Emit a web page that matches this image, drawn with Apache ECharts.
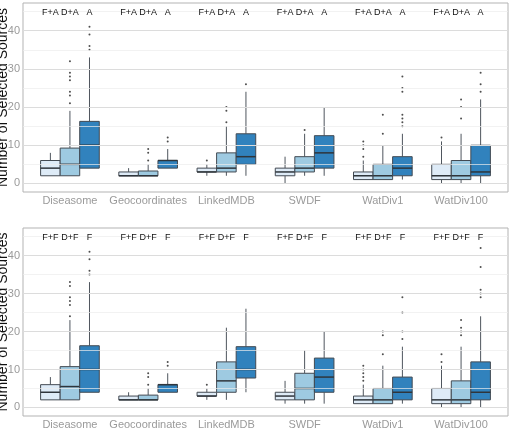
<!DOCTYPE html>
<html>
<head>
<meta charset="utf-8">
<script src="https://cdn.jsdelivr.net/npm/echarts@6/dist/echarts.min.js"></script>
<style>
	html,body{margin:0;padding:0;background:#fff;}
	#chart{width:512px;height:432px;}
</style>
</head>
<body>
<div id="chart"></div>
<script>
// categories and labels
const groups = ['Diseasome', 'Geocoordinates', 'LinkedMDB', 'SWDF', 'WatDiv1', 'WatDiv100'];
const topNames = ['F+A', 'D+A', 'A'];
const bottomNames = ['F+F', 'D+F', 'F'];
const yTicks = [0, 10, 20, 30, 40];
const minorTicks = [5, 15, 25, 35, 45];

// box stats per group: [lower whisker, q1, median, q3, upper whisker]
const faStats = [[2, 2, 4, 6, 8], [2, 2, 2, 3, 4], [2, 3, 3, 4, 5], [0, 2, 3, 4, 7], [1, 1, 2, 3, 6], [0, 1, 2, 5, 11]];
const daStats = [[2, 2, 5, 9.25, 19], [2, 2, 2, 3.25, 5], [2, 3, 4, 8, 15], [2, 3, 4, 7, 13], [1, 1, 2, 5, 10], [0, 1, 2, 6, 13]];
const aStats = [[4, 4, 10, 16.25, 33], [4, 4, 6, 6, 9], [2, 5, 7, 13, 24], [2, 4, 8, 12.5, 20], [1, 2, 4, 7, 13], [0, 2, 3, 10, 22]];
const ffStats = [[2, 2, 4, 6, 8], [2, 2, 2, 3, 4], [2, 3, 3, 4, 5], [1, 2, 3, 4, 7], [1, 1, 2, 3, 6], [0, 1, 2, 5, 11]];
const dfStats = [[2, 2, 5.5, 10.75, 23], [2, 2, 2, 3.25, 5], [2, 4, 7, 12, 21], [1, 2, 5, 9, 15], [1, 1, 2, 5, 11], [0, 1, 2, 7, 16]];
const fStats = [[4, 4, 10, 16.25, 33], [4, 4, 6, 6, 9], [4, 7.75, 10, 16, 26], [1, 4, 8, 13, 20], [1, 2, 4, 8, 16], [0, 2, 4, 12, 24]];

// outliers per group
const faOut = [[], [], [6], [], [7, 9, 10, 11], [12]];
const daOut = [[21, 23, 24, 27, 28, 29, 32], [6, 8, 9], [16, 19, 20], [14], [13, 18], [17, 20, 22]];
const aOut = [[35, 36, 39, 41], [11, 12], [26], [], [15, 16, 17, 18, 24, 25, 28], [24, 26, 29]];
const ffOut = [[], [], [6], [], [7, 8, 9, 10, 11], [12, 14]];
const dfOut = [[24, 27, 28, 29, 32, 33], [6, 8, 9], [], [], [14, 19, 20], [19, 20, 21, 23]];
const fOut = [[35, 36, 39, 41], [11, 12], [], [], [18, 20, 25, 29], [29, 30, 31, 37, 42]];

const labelY = 45;
const colors = ['#DEEBF7', '#9ECAE1', '#3182BD'];

const panels = [
	{names: topNames, stats: [faStats, daStats, aStats], outs: [faOut, daOut, aOut]},
	{names: bottomNames, stats: [ffStats, dfStats, fStats], outs: [ffOut, dfOut, fOut]}
];

function xPos(i, k) {
	return i + 1 + (k - 1) * 0.25;
}

function boxRender(fill) {
	return function (params, api) {
		const x = api.value(0);
		const lo = api.coord([x, api.value(1)]);
		const q1 = api.coord([x, api.value(2)]);
		const md = api.coord([x, api.value(3)]);
		const q3 = api.coord([x, api.value(4)]);
		const hi = api.coord([x, api.value(5)]);
		const w = api.size([0.25, 0])[0];
		const cx = lo[0];
		const line = {stroke: '#4f565e', lineWidth: 1};
		return {
			type: 'group',
			children: [
				{type: 'line', shape: {x1: cx, y1: lo[1], x2: cx, y2: q1[1]}, style: line},
				{type: 'line', shape: {x1: cx, y1: q3[1], x2: cx, y2: hi[1]}, style: line},
				{type: 'rect', shape: {x: cx - w / 2, y: q3[1], width: w, height: q1[1] - q3[1]},
					style: {fill: fill, stroke: '#434a52', lineWidth: 1}},
				{type: 'line', shape: {x1: cx - w / 2, y1: md[1], x2: cx + w / 2, y2: md[1]},
					style: {stroke: '#2f353b', lineWidth: 1.5}}
			]
		};
	};
}

const grids = [
	{left: 23, top: 3, width: 485, height: 189},
	{left: 23, top: 228, width: 485, height: 188}
];

let xAxes = [], yAxes = [], series = [];

panels.forEach(function (p, g) {
	grids[g].show = true;
	grids[g].outerBoundsMode = 'none';
	grids[g].containLabel = false;
	grids[g].borderColor = '#b3b3b3';
	grids[g].borderWidth = 1;
	grids[g].backgroundColor = '#fff';

	xAxes.push({
		type: 'value', gridIndex: g, min: 0.4, max: 6.6,
		splitLine: {show: false}, axisLine: {show: false}, axisTick: {show: false},
		axisLabel: {
			customValues: [1, 2, 3, 4, 5, 6],
			formatter: function (v) { return groups[Math.round(v) - 1]; },
			color: '#9a9a9a', fontSize: 11, margin: 3, fontFamily: 'Liberation Sans'
		}
	});
	yAxes.push({
		type: 'value', gridIndex: g, min: -2.25, max: 47.25,
		name: 'Number of Selected Sources', nameLocation: 'middle', nameGap: 13,
		nameMoveOverlap: false,
		nameTextStyle: {color: '#111', fontSize: 14, fontFamily: 'Liberation Sans'},
		splitLine: {show: false}, axisLine: {show: false}, axisTick: {show: false},
		axisLabel: {customValues: yTicks, color: '#9a9a9a', fontSize: 11, margin: 3, fontFamily: 'Liberation Sans'}
	});

	// grid lines
	series.push({
		type: 'scatter', xAxisIndex: g, yAxisIndex: g, data: [], z: 1, silent: true,
		markLine: {
			silent: true, symbol: ['none', 'none'], label: {show: false}, animation: false,
			data: yTicks.map(function (v) { return {yAxis: v, lineStyle: {color: '#dcdcdc', width: 1, type: 'solid'}}; })
				.concat(minorTicks.map(function (v) { return {yAxis: v, lineStyle: {color: '#ededed', width: 0.7, type: 'solid'}}; }))
		}
	});

	p.stats.forEach(function (st, k) {
		series.push({
			type: 'custom', xAxisIndex: g, yAxisIndex: g, z: 3,
			renderItem: boxRender(colors[k]),
			encode: {x: 0, y: [1, 2, 3, 4, 5]},
			data: st.map(function (b, i) { return [xPos(i, k)].concat(b); })
		});
		let pts = [];
		p.outs[k].forEach(function (arr, i) {
			arr.forEach(function (v) { pts.push([xPos(i, k), v]); });
		});
		series.push({
			type: 'scatter', xAxisIndex: g, yAxisIndex: g, z: 4,
			symbolSize: 2, itemStyle: {color: '#222'}, data: pts
		});
	});

	// sub-group labels above each box
	let lab = [];
	groups.forEach(function (name, i) {
		p.names.forEach(function (n, k) { lab.push([xPos(i, k), labelY, k]); });
	});
	series.push({
		type: 'custom', xAxisIndex: g, yAxisIndex: g, z: 5,
		data: lab,
		renderItem: function (params, api) {
			const c = api.coord([api.value(0), api.value(1)]);
			return {
				type: 'text', x: c[0], y: c[1] + 1,
				style: {text: p.names[api.value(2)], fill: '#111', fontSize: 9, fontFamily: 'Liberation Sans',
					align: 'center', verticalAlign: 'middle'}
			};
		}
	});
});

let myChart = echarts.init(document.getElementById('chart'));
myChart.setOption({
	animation: false,
	backgroundColor: '#fff',
	grid: grids,
	xAxis: xAxes,
	yAxis: yAxes,
	series: series
});
</script>
</body>
</html>
